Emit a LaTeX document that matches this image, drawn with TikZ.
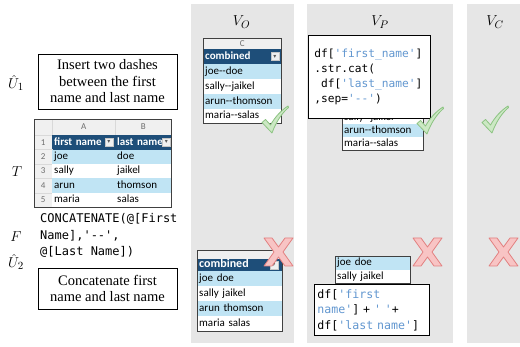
\documentclass[tikz,border=0pt]{standalone}
\usepackage{fontspec}
\setmainfont{Liberation Serif}
\setmonofont{DejaVu Sans Mono}
\newfontfamily\xlfont{Carlito}
\newfontfamily\symfont{DejaVu Sans}

\definecolor{panelgray}{RGB}{230,230,230}
\definecolor{xlhead}{RGB}{30,78,121}
\definecolor{xlband}{RGB}{192,228,244}
\definecolor{xlgrid}{RGB}{240,240,240}
\definecolor{xltext}{RGB}{110,110,110}
\definecolor{strblue}{RGB}{98,151,208}
\definecolor{okfill}{RGB}{204,232,196}
\definecolor{okline}{RGB}{140,195,130}
\definecolor{badfill}{RGB}{248,196,196}
\definecolor{badline}{RGB}{226,128,128}

\newcommand\pystr[1]{\textcolor{strblue}{#1}}
\newcommand\dd{\mbox{-}\mbox{-}}
\newcommand\okmark[1]{\filldraw[okmk, shift={#1}] (0,16.5) -- (3.5,13.5) -- (8.5,19)
  .. controls (13,11) and (19,4.5) .. (26,0) -- (26.5,1.5)
  .. controls (20,7) and (14,16) .. (10,27) -- cycle;}
\newcommand\badmark[1]{\filldraw[badmk, shift={#1}] (0,0) -- (8,0) -- (14.5,9) -- (21,0)
  -- (29,0) -- (19,14) -- (29,28) -- (21,28) -- (14.5,19) -- (8,28) -- (0,28) -- (10,14) -- cycle;}

\tikzset{
  panel/.style={fill=panelgray, anchor=north west, inner sep=0pt},
  title/.style={font=\fontsize{15}{17}\selectfont},
  prompt/.style={draw, line width=0.8pt, align=center, inner sep=0pt,
    font=\fontsize{14.5}{16.5}\selectfont},
  xlcell/.style 2 args={anchor=north west, inner xsep=2pt, inner ysep=0pt, align=left,
    text height=7.5pt, text depth=2pt, text width=#1, minimum height=#2,
    font=\xlfont\fontsize{11}{12}\selectfont},
  letter/.style={fill=xlgrid, draw=gray!30, text=xltext, align=center,
    font=\xlfont\fontsize{9}{10}\selectfont},
  hdr/.style={fill=xlhead, text=white, font=\xlfont\bfseries\fontsize{11}{12}\selectfont},
  band/.style={fill=xlband},
  plain/.style={fill=white},
  xlborder/.style={draw=black!75, line width=0.7pt},
  dropbtn/.style={fill=gray!12, draw=gray!45, minimum width=8, minimum height=8, inner sep=0pt,
    text=gray!70!black, font=\symfont\fontsize{6}{6}\selectfont},
  codebox/.style={draw, fill=white, line width=0.8pt, align=left, anchor=north west},
  okmk/.style={fill=okfill, draw=okline, line width=0.8pt, line join=round},
  badmk/.style={fill=badfill, draw=badline, line width=0.8pt, line join=round}
}

\begin{document}
\begin{tikzpicture}[x=1pt, y=-1pt]
  \useasboundingbox (0,0) rectangle (520,347);

  % panels
  \node[panel, minimum width=103, minimum height=339] (po) at (191,4) {};
  \node[panel, minimum width=146, minimum height=339] (pp) at (307,4) {};
  \node[panel, minimum width=53,  minimum height=339] (pc) at (467,4) {};
  \node[title] (vo) at (241.5,22) {$V_O$};
  \node[title] (vp) at (380,22) {$V_P$};
  \node[title] (vc) at (495,22) {$V_C$};

  % left column
  \begin{scope}[every node/.style={font=\fontsize{15}{17}\selectfont}]
    \node (lu1) at (16,83)  {$\hat{U}_1$};
    \node (lt)  at (17,172) {$T$};
    \node (lf)  at (16,237) {$F$};
    \node (lu2) at (16,262) {$\hat{U}_2$};
  \end{scope}
  \node[prompt, minimum width=139, minimum height=55] (u1) at (107.5,81.5)
    {Insert two dashes\\between the first\\name and last name};
  \node[prompt, minimum width=139, minimum height=41] (u2) at (107.5,288.5)
    {Concatenate first\\name and last name};
  \node[anchor=west, align=left, inner sep=3pt, font=\ttfamily\fontsize{12}{16.3}\selectfont] (f)
    at (37,235.5) {CONCATENATE(@[First\\Name],'--',\\@[Last Name])};

  % table T
  \node[xlcell={14}{16}, letter]   (t00) at (34,119) {};
  \node[xlcell={59}{16}, letter]   (t0a) at (52,119) {A};
  \node[xlcell={52}{16}, letter]   (t0b) at (115,119) {B};
  \node[xlcell={14}{14.4}, letter] (t10) at (34,135) {1};
  \node[xlcell={59}{14.4}, hdr]    (t1a) at (52,135) {first name};
  \node[xlcell={52}{14.4}, hdr]    (t1b) at (115,135) {last name};
  \node[xlcell={14}{14.4}, letter] (t20) at (34,149.4) {2};
  \node[xlcell={59}{14.4}, band]   (t2a) at (52,149.4) {joe};
  \node[xlcell={52}{14.4}, band]   (t2b) at (115,149.4) {doe};
  \node[xlcell={14}{14.4}, letter] (t30) at (34,163.8) {3};
  \node[xlcell={59}{14.4}, plain]  (t3a) at (52,163.8) {sally};
  \node[xlcell={52}{14.4}, plain]  (t3b) at (115,163.8) {jaikel};
  \node[xlcell={14}{14.4}, letter] (t40) at (34,178.2) {4};
  \node[xlcell={59}{14.4}, band]   (t4a) at (52,178.2) {arun};
  \node[xlcell={52}{14.4}, band]   (t4b) at (115,178.2) {thomson};
  \node[xlcell={14}{14.4}, letter] (t50) at (34,192.6) {5};
  \node[xlcell={59}{14.4}, plain]  (t5a) at (52,192.6) {maria};
  \node[xlcell={52}{14.4}, plain]  (t5b) at (115,192.6) {salas};
  \node[dropbtn] (t1abtn) at (109,142.2) {▾};
  \node[dropbtn] (t1bbtn) at (166.5,142.2) {▾};
  \draw[xlborder] (t00.north west) rectangle (t5b.south east);

  % V_O, first prompt
  \node[xlcell={74}{11}, letter] (oc0) at (203,38) {C};
  \node[xlcell={74}{15}, hdr]    (oc1) at (203,49) {combined};
  \node[xlcell={74}{15}, band]   (oc2) at (203,64) {joe\dd doe};
  \node[xlcell={74}{15}, plain]  (oc3) at (203,79) {sally\dd jaikel};
  \node[xlcell={74}{14.5}, band] (oc4) at (203,94) {arun\dd thomson};
  \node[xlcell={74}{14.5}, plain](oc5) at (203,108.5) {maria\dd salas};
  \node[dropbtn] (oc1btn) at (275,56.5) {▾};
  \draw[xlborder] (oc0.north west) rectangle (oc5.south east);
  \okmark{(262,106)}

  % V_O, second prompt
  \begin{scope}[every node/.append style={font=\xlfont\fontsize{12}{13}\selectfont}]
    \node[xlcell={81}{9}, letter]  (od0) at (197,250) {};
    \node[xlcell={81}{12}, hdr, font=\xlfont\bfseries\fontsize{12}{13}\selectfont]
                                   (od1) at (197,259) {combined};
    \node[xlcell={81}{15}, band]   (od2) at (197,271) {joe doe};
    \node[xlcell={81}{15}, plain]  (od3) at (197,286) {sally jaikel};
    \node[xlcell={81}{15}, band]   (od4) at (197,301) {arun thomson};
    \node[xlcell={81}{15}, plain]  (od5) at (197,316) {maria salas};
  \end{scope}
  \node[dropbtn] (od1btn) at (274,265) {▾};
  \draw[xlborder] (od0.north west) rectangle (od5.south east);
  \badmark{(264,238)}

  % V_P, first prompt
  \node[xlcell={77}{13}, plain]  (pc3) at (342,111) {sally\dd jaikel};
  \node[xlcell={77}{13}, band]   (pc4) at (342,124) {arun\dd thomson};
  \node[xlcell={77}{13}, plain]  (pc5) at (342,137) {maria\dd salas};
  \draw[xlborder] (pc3.north west) rectangle (pc5.south east);
  \node[codebox, inner xsep=6pt, text width=110, minimum height=83,
        font=\ttfamily\fontsize{11.2}{15}\selectfont] (pcode1) at (308,35)
    {df[\pystr{'first\_name'}]\\
     .str.cat(\\
     \phantom{d}df[\pystr{'last\_name'}]\\
     ,sep=\pystr{'--'})};
  \okmark{(417,107)}

  % V_P, second prompt
  \node[xlcell={71}{13.5}, band]  (pd2) at (335,256) {joe doe};
  \node[xlcell={71}{13.5}, plain] (pd3) at (335,269.5) {sally jaikel};
  \draw[xlborder] (pd2.north west) rectangle (pd3.south east);
  \node[codebox, inner xsep=3pt, text width=109, minimum height=51,
        font=\ttfamily\fontsize{11.6}{15.5}\selectfont] (pcode2) at (314,284)
    {df[\pystr{'first}\\
     \pystr{name'}] + \pystr{' '}+\\
     df[\pystr{'last name'}]};
  \badmark{(413,238)}

  % V_C
  \okmark{(482,106)}
  \badmark{(489,238)}
\end{tikzpicture}
\end{document}
